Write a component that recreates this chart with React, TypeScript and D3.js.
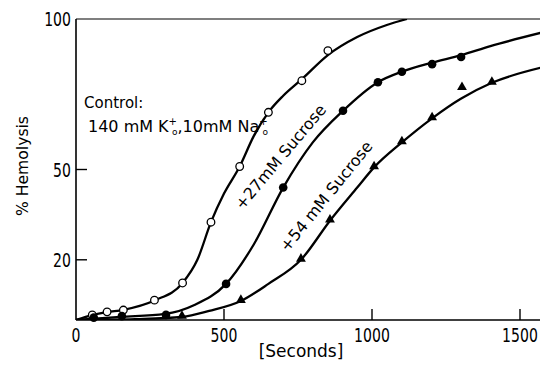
import React from 'react';
import * as d3 from 'd3';

// measured points [seconds, % hemolysis]
const controlPts: [number, number][] = [[55,1.7],[105,2.7],[160,3.3],[265,6.6],[360,12.3],[456,32.5],[553,51],[650,69],[763,79.5],[851,89.5]];
const sucrose27Pts: [number, number][] = [[60,0.8],[155,1.3],[304,1.7],[507,12],[700,44],[902,69.5],[1020,79],[1101,82.5],[1203,85],[1301,87.4]];
const sucrose54Pts: [number, number][] = [[358,1],[557,6.3],[760,20],[858,33],[1007,50.7],[1101,59],[1203,67],[1304,77],[1405,78.8]];

// hand-fitted curves
const controlCurve: [number, number][] = [[0,0],[55,1.6],[105,2.6],[160,3.4],[265,6.5],[360,12.3],[410,20],[456,32.5],[500,42],[553,51],[600,61],[650,69],[700,74.5],[763,80],[851,88],[950,94],[1050,98],[1118,100]];
const sucrose27Curve: [number, number][] = [[0,0],[150,1],[300,2],[400,5],[507,12],[600,25],[700,44],[800,59],[902,69.5],[1020,79],[1101,82.5],[1203,85.5],[1301,88],[1400,91],[1570,95.4]];
const sucrose54Curve: [number, number][] = [[0,0],[200,0.3],[358,1],[450,3],[557,6.3],[650,12],[760,20],[858,33],[950,44],[1007,50.7],[1101,59],[1203,67],[1300,73.5],[1405,78.8],[1570,83.8]];

const xTicks = [0, 500, 1000, 1500];
const yTicks = [20, 50];

const W = 540, H = 369;
const FONT = "'DejaVu Sans', sans-serif";
const NARROW = 0.74; // the printed digits are narrower than DejaVu's

export default function App() {
  const x = d3.scaleLinear().domain([0, 1500]).range([76, 520]);
  const y = d3.scaleLinear().domain([0, 100]).range([320, 19]);
  const line = d3.line<[number, number]>().x(d => x(d[0])).y(d => y(d[1])).curve(d3.curveMonotoneX);
  const xEnd = x.invert(W);

  const tri = d3.symbol().type(d3.symbolTriangle).size(42)()!;

  return (
    <svg width={W} height={H} style={{ position: 'absolute', left: 0, top: 0, display: 'block', background: '#fff' }} fontFamily={FONT}>
      <defs>
        <clipPath id="plot"><rect x={x(0)} y={y(100)} width={W - x(0)} height={y(0) - y(100)} /></clipPath>
      </defs>

      {/* frame */}
      <line x1={x(0)} x2={x(xEnd)} y1={y(0)} y2={y(0)} stroke="#000" strokeWidth={1.6} />
      <line x1={x(0)} x2={x(0)} y1={y(0)} y2={y(100)} stroke="#000" strokeWidth={1.6} />
      <line x1={x(0)} x2={x(xEnd)} y1={y(100)} y2={y(100)} stroke="#000" strokeWidth={1.2} />

      {xTicks.filter(t => t > 0).map(t => (
        <line key={t} x1={x(t)} x2={x(t)} y1={y(0)} y2={y(0) - 11} stroke="#000" strokeWidth={1.4} />
      ))}
      {yTicks.map(t => (
        <line key={t} x1={x(0)} x2={x(0) + 11} y1={y(t)} y2={y(t)} stroke="#000" strokeWidth={1.4} />
      ))}

      {xTicks.map(t => (
        <text key={t} transform={`translate(${x(t)},342) scale(${NARROW},1)`} textAnchor="middle" fontSize={19}>{t}</text>
      ))}
      {[...yTicks, 100].map(t => (
        <text key={t} transform={`translate(71,${y(t) + 7}) scale(${NARROW},1)`} textAnchor="end" fontSize={19}>{t}</text>
      ))}

      <text transform="translate(28,166) rotate(-90)" textAnchor="middle" fontSize={16}
        textLength={100} lengthAdjust="spacingAndGlyphs">% Hemolysis</text>
      <text x={301} y={357} textAnchor="middle" fontSize={17}>[Seconds]</text>

      {/* curves */}
      <g clipPath="url(#plot)" fill="none" stroke="#000" strokeWidth={2.3}>
        <path d={line(controlCurve)!} />
        <path d={line(sucrose27Curve)!} />
        <path d={line(sucrose54Curve)!} />
      </g>

      {/* markers */}
      {controlPts.map((d, i) => (
        <circle key={'c' + i} cx={x(d[0])} cy={y(d[1])} r={3.8} fill="#fff" stroke="#000" strokeWidth={1.3} />
      ))}
      {sucrose27Pts.map((d, i) => (
        <circle key={'s' + i} cx={x(d[0])} cy={y(d[1])} r={4.3} fill="#000" />
      ))}
      {sucrose54Pts.map((d, i) => (
        <path key={'t' + i} d={tri} transform={`translate(${x(d[0])},${y(d[1]) - 1})`} fill="#000" />
      ))}

      {/* annotations */}
      <text x={84} y={108} fontSize={15}>Control:</text>
      <text x={88} y={132} fontSize={16}>
        140 mM K<tspan dy={-7} fontSize={10}>+</tspan><tspan dx={-5} dy={10} fontSize={9}>o</tspan>
        <tspan dy={-3} fontSize={16}>,10mM Na</tspan><tspan dy={-7} fontSize={10}>+</tspan><tspan dx={-5} dy={10} fontSize={9}>o</tspan>
      </text>
      <text transform={`translate(${x(705)},${y(53)}) rotate(-50)`} textAnchor="middle" fontSize={16}>+27mM Sucrose</text>
      <text transform={`translate(${x(860)},${y(40)}) rotate(-51)`} textAnchor="middle" fontSize={16}>+54 mM Sucrose</text>
    </svg>
  );
}
